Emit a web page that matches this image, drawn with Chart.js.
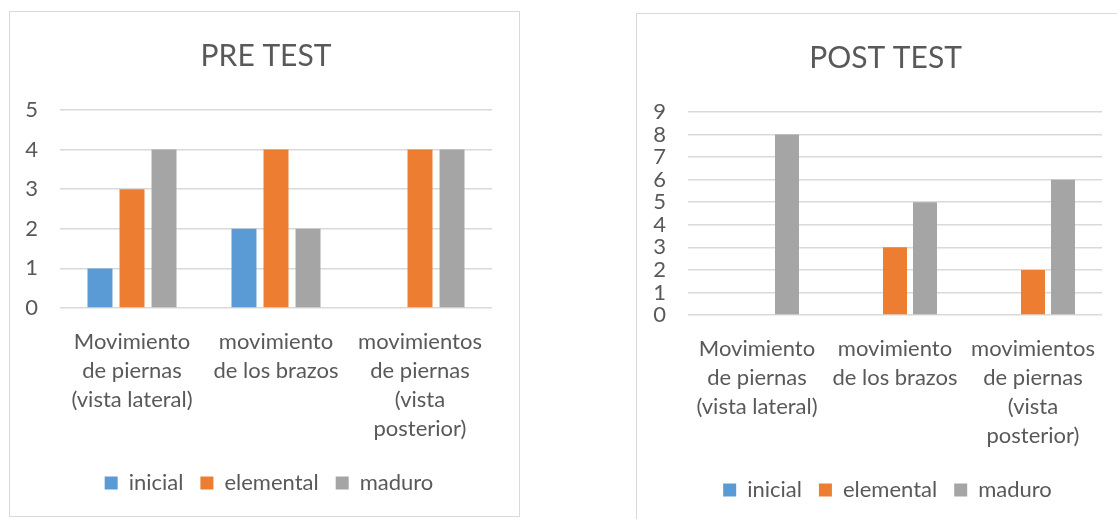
<!DOCTYPE html>
<html lang="es">
<head>
  <meta charset="UTF-8" />
  <title>PRE TEST / POST TEST</title>
  <script src="https://cdn.jsdelivr.net/npm/chart.js"></script>
  <style>
    body {
      margin: 0;
      background: #fff;
      width: 1117px;
      height: 519px;
      overflow: hidden;
      position: relative;
    }

    .chart-box {
      position: absolute;
      border: 1px solid #d9d9d9;
      background: #fff;
    }

    #preBox  { left: 9px;   top: 11px; width: 509px; height: 504px; }
    #postBox { left: 636px; top: 13px; width: 483px; height: 508px; }
  </style>
</head>
<body>

  <div class="chart-box" id="preBox"><canvas id="preChart"></canvas></div>
  <div class="chart-box" id="postBox"><canvas id="postChart"></canvas></div>

  <script>
    // categories (already split in lines, like Excel wraps them)
    const categories = [
      ['Movimiento', 'de piernas', '(vista lateral)'],
      ['movimiento', 'de los brazos'],
      ['movimientos', 'de piernas', '(vista', 'posterior)']
    ];
    const seriesNames = ['inicial', 'elemental', 'maduro'];
    const seriesColors = ['#5b9bd5', '#ed7d31', '#a5a5a5'];

    // PRE TEST
    const preInicial   = [1, 2, 0];
    const preElemental = [3, 4, 4];
    const preMaduro    = [4, 2, 4];
    const preTicks     = [0, 1, 2, 3, 4, 5];

    // POST TEST
    const postInicial   = [0, 0, 0];
    const postElemental = [0, 3, 2];
    const postMaduro    = [8, 5, 6];
    const postTicks     = [0, 1, 2, 3, 4, 5, 6, 7, 8, 9];

    const textColor = '#595959';
    const fontFamily = 'Lato, "Open Sans", sans-serif';

    // Excel centres title and legend on the whole box, a bit right of Chart.js
    const boxShift = {
      id: 'boxShift',
      afterLayout(chart, args, opts) {
        chart.legend.left += opts.legendDx;
        chart.legend.right += opts.legendDx;
        chart.titleBlock.left += opts.titleDx;
        chart.titleBlock.right += opts.titleDx;
      }
    };

    function makeChart(id, title, series, ticks, lay) {
      new Chart(document.getElementById(id), {
        type: 'bar',
        data: {
          labels: categories,
          datasets: series.map((values, i) => ({
            label: seriesNames[i],
            data: values,
            backgroundColor: seriesColors[i],
            borderWidth: 0,
            categoryPercentage: lay.catPct,
            barPercentage: lay.barPct
          }))
        },
        plugins: [boxShift],
        options: {
          responsive: true,
          maintainAspectRatio: false,
          animation: false,
          layout: { padding: { left: 0, right: lay.padRight, top: 0, bottom: lay.padBottom } },
          plugins: {
            boxShift: { legendDx: lay.legendDx, titleDx: lay.titleDx },
            title: {
              display: true,
              text: title,
              color: textColor,
              font: { family: fontFamily, size: 30, weight: 'normal', lineHeight: 1.2 },
              padding: { top: 26, bottom: 36 }
            },
            legend: {
              position: 'bottom',
              labels: {
                color: textColor,
                boxWidth: 13,
                boxHeight: 13,
                padding: 17,
                font: { family: fontFamily, size: 22 }
              }
            },
            tooltip: { enabled: false }
          },
          scales: {
            x: {
              grid: { display: false },
              border: { display: false },
              ticks: {
                color: textColor,
                maxRotation: 0,
                autoSkip: false,
                padding: lay.tickPadX,
                font: { family: fontFamily, size: 22, lineHeight: '29px' }
              },
              afterFit: s => { s.height = lay.xHeight; }
            },
            y: {
              min: ticks[0],
              max: ticks[ticks.length - 1],
              grid: { color: '#d9d9d9', lineWidth: 1.5, drawTicks: false },
              border: { display: false },
              ticks: {
                stepSize: 1,
                autoSkip: false,
                color: textColor,
                padding: lay.tickPadY,
                font: { family: fontFamily, size: 22, lineHeight: 1 }
              },
              afterFit: s => { s.width = lay.yWidth; }
            }
          }
        }
      });
    }

    makeChart('preChart', 'PRE TEST', [preInicial, preElemental, preMaduro], preTicks, {
      yWidth: 50, xHeight: 147, padRight: 27, padBottom: 12, legendDx: 18, titleDx: 15,
      catPct: 0.667, barPct: 0.78, tickPadX: 11, tickPadY: 22
    });

    makeChart('postChart', 'POST TEST', [postInicial, postElemental, postMaduro], postTicks, {
      yWidth: 51, xHeight: 147, padRight: 18, padBottom: 11, legendDx: 18, titleDx: 16,
      catPct: 0.652, barPct: 0.8, tickPadX: 11, tickPadY: 22
    });
  </script>

</body>
</html>
